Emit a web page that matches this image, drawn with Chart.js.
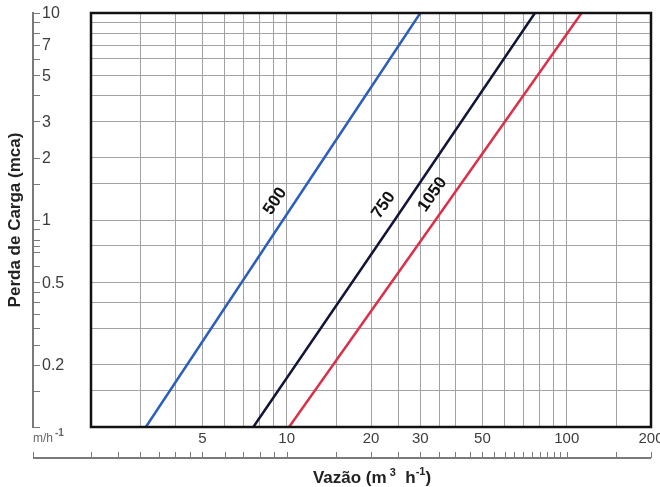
<!DOCTYPE html>
<html>
<head>
<meta charset="utf-8">
<script src="https://cdn.jsdelivr.net/npm/chart.js@4/dist/chart.umd.min.js"></script>
<style>
  html, body { margin: 0; padding: 0; background: #fff; }
  #wrap { width: 660px; height: 487px; }
</style>
</head>
<body>
<div id="wrap"><canvas id="lossChart" width="660" height="487"></canvas></div>
<script>
// Dados (vazão em m3/h para cada perda de carga em mca)
const seriesNames = ['500', '750', '1050'];
const headLoss = [0.1, 1, 10];
const flow500 = [3.14, 9.7, 30];
const flow750 = [7.6, 24.3, 77];
const flow1050 = [10.2, 34, 113];
// ponto (perda de carga) onde fica o rótulo de cada curva
const labelHead = [1.11, 1.06, 1.19];

// Eixos
const xMin = 2, xMax = 200;
const yMin = 0.1, yMax = 10;
const xGridValues = [3, 4, 5, 6, 7, 8, 9, 10, 15, 20, 25, 30, 35, 40, 50, 60, 70, 80, 90, 100, 150];
const yGridValues = [0.15, 0.2, 0.3, 0.4, 0.5, 0.75, 1, 1.5, 2, 3, 4, 5, 6, 7, 8, 9];
const xTickLabels = [5, 10, 20, 30, 50, 100, 200];
const yTickLabels = [10, 7, 5, 3, 2, 1, 0.5, 0.2];
const xMinorTicks = [2, 2.5, 3, 3.5, 4, 4.5, 5, 6, 7, 8, 9, 10, 15, 20, 25, 30, 35, 40, 45, 50,
  55, 60, 65, 70, 75, 80, 85, 90, 95, 100, 150, 200];
const yMinorTicks = [0.1, 0.15, 0.2, 0.25, 0.3, 0.35, 0.4, 0.45, 0.5, 0.6, 0.7, 0.75, 0.8, 0.9,
  1, 1.5, 2, 3, 4, 5, 6, 7, 8, 9, 10];

const colors = ['#2c5fbd', '#12143a', '#dc3049'];
const FONT = '"Liberation Sans", Arial, sans-serif';

function toPoints(flows) {
  return flows.map((q, i) => ({ x: q, y: headLoss[i] }));
}

// Desenha os eixos externos, moldura, títulos e rótulos das curvas
const outerAxes = {
  id: 'outerAxes',
  afterDatasetsDraw(chart) {
    const { ctx, chartArea: a, scales: { x, y } } = chart;
    ctx.save();

    // rótulos das curvas
    chart.data.datasets.forEach((ds, i) => {
      const meta = chart.getDatasetMeta(i);
      const p0 = meta.data[0], p1 = meta.data[meta.data.length - 1];
      const ang = Math.atan2(p1.y - p0.y, p1.x - p0.x);
      const py = y.getPixelForValue(labelHead[i]);
      const t = (py - p0.y) / (p1.y - p0.y);
      const px = p0.x + t * (p1.x - p0.x);
      ctx.save();
      ctx.translate(px, py);
      ctx.rotate(ang);
      ctx.font = 'bold 17px ' + FONT;
      ctx.fillStyle = '#111';
      ctx.textAlign = 'center';
      ctx.textBaseline = 'middle';
      ctx.fillText(ds.label, 0, -17);
      ctx.restore();
    });

    // moldura do gráfico
    ctx.strokeStyle = '#111';
    ctx.lineWidth = 2.5;
    ctx.strokeRect(a.left, a.top, a.right - a.left, a.bottom - a.top);

    const axisX = a.left - 58;
    const axisY = a.bottom + 31;

    // eixo Y externo
    ctx.strokeStyle = '#7a7a7a';
    ctx.lineWidth = 2;
    ctx.beginPath();
    ctx.moveTo(axisX, y.getPixelForValue(yMax) - 1);
    ctx.lineTo(axisX, a.bottom + 1);
    ctx.stroke();
    ctx.lineWidth = 1;
    yMinorTicks.forEach(v => {
      const py = Math.round(y.getPixelForValue(v)) + 0.5;
      ctx.beginPath();
      ctx.moveTo(axisX, py);
      ctx.lineTo(axisX + 7, py);
      ctx.stroke();
    });
    ctx.fillStyle = '#3c3c3c';
    ctx.font = '16px ' + FONT;
    ctx.textAlign = 'left';
    ctx.textBaseline = 'middle';
    yTickLabels.forEach(v => {
      ctx.fillText(String(v), axisX + 9, y.getPixelForValue(v) + 1);
    });

    // eixo X externo
    ctx.lineWidth = 2;
    ctx.beginPath();
    ctx.moveTo(axisX, axisY);
    ctx.lineTo(a.right, axisY);
    ctx.stroke();
    ctx.lineWidth = 1;
    const xt = [axisX].concat(xMinorTicks.map(v => x.getPixelForValue(v)));
    xt.forEach(px => {
      px = Math.round(px) + 0.5;
      ctx.beginPath();
      ctx.moveTo(px, axisY);
      ctx.lineTo(px, axisY - 6);
      ctx.stroke();
    });
    ctx.font = '15px ' + FONT;
    ctx.textAlign = 'center';
    xTickLabels.forEach(v => {
      ctx.fillText(String(v), x.getPixelForValue(v), a.bottom + 12);
    });

    // unidade no canto
    ctx.textAlign = 'left';
    ctx.font = '12px ' + FONT;
    ctx.fillStyle = '#666';
    ctx.fillText('m/h', axisX, a.bottom + 12);
    const uw = ctx.measureText('m/h').width;
    ctx.font = 'bold 10px ' + FONT;
    ctx.fillText('-1', axisX + uw + 2, a.bottom + 6);

    // título do eixo X: Vazão (m³ h⁻¹)
    const parts = [
      ['Vazão (m', 'bold 17px ', 0],
      [' 3', 'bold 11px ', -5],
      ['  h', 'bold 17px ', 0],
      ['-1', 'bold 11px ', -6],
      [')', 'bold 17px ', 0]
    ];
    let total = 0;
    parts.forEach(p => { ctx.font = p[1] + FONT; total += ctx.measureText(p[0]).width; });
    let cx = (a.left + a.right) / 2 + 1 - total / 2;
    ctx.fillStyle = '#222';
    ctx.textBaseline = 'middle';
    parts.forEach(p => {
      ctx.font = p[1] + FONT;
      ctx.fillText(p[0], cx, a.bottom + 51 + p[2]);
      cx += ctx.measureText(p[0]).width;
    });

    // título do eixo Y
    ctx.save();
    ctx.translate(15, (a.top + a.bottom) / 2);
    ctx.rotate(-Math.PI / 2);
    ctx.font = 'bold 17px ' + FONT;
    ctx.textAlign = 'center';
    ctx.fillText('Perda de Carga (mca)', 0, 0);
    ctx.restore();

    ctx.restore();
  }
};

const datasets = [flow500, flow750, flow1050].map((flows, i) => ({
  label: seriesNames[i],
  data: toPoints(flows),
  borderColor: colors[i],
  borderWidth: 2.5,
  pointRadius: 0,
  showLine: true,
  fill: false
}));

new Chart(document.getElementById('lossChart'), {
  type: 'scatter',
  data: { datasets },
  options: {
    responsive: false,
    animation: false,
    devicePixelRatio: 1,
    layout: { padding: { left: 91, right: 9, top: 13, bottom: 60 } },
    plugins: { legend: { display: false }, tooltip: { enabled: false } },
    scales: {
      x: {
        type: 'logarithmic',
        min: xMin,
        max: xMax,
        afterBuildTicks: s => { s.ticks = xGridValues.map(v => ({ value: v })); },
        afterFit: s => { s.height = 0; },
        ticks: { display: false },
        border: { display: false },
        grid: { color: '#a2a2a2', lineWidth: 1, drawTicks: false }
      },
      y: {
        type: 'logarithmic',
        min: yMin,
        max: yMax,
        afterBuildTicks: s => { s.ticks = yGridValues.map(v => ({ value: v })); },
        afterFit: s => { s.width = 0; },
        ticks: { display: false },
        border: { display: false },
        grid: { color: '#a2a2a2', lineWidth: 1, drawTicks: false }
      }
    }
  },
  plugins: [outerAxes]
});
</script>
</body>
</html>
